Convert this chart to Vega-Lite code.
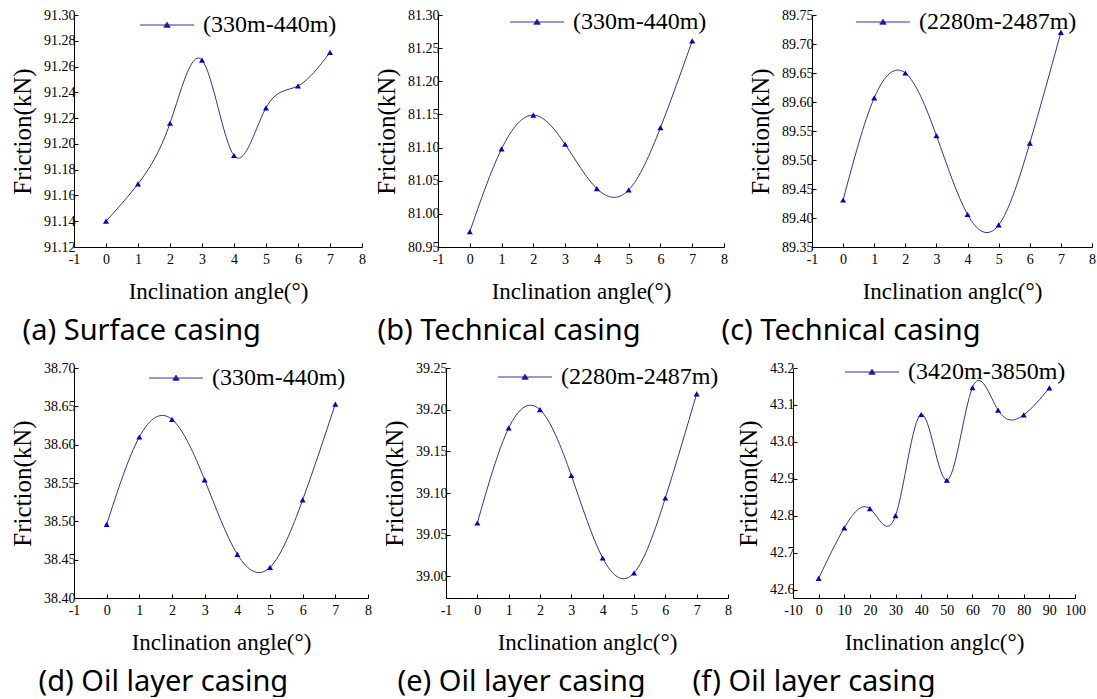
{
  "$schema": "https://vega.github.io/schema/vega-lite/v6.json",
  "background": "white",
  "padding": {"top": 8, "left": 10, "right": 0, "bottom": 0},
  "datasets": {
    "a": [
      {"angle": 0, "friction": 91.140, "series": "(330m-440m)"},
      {"angle": 1, "friction": 91.169, "series": "(330m-440m)"},
      {"angle": 2, "friction": 91.216, "series": "(330m-440m)"},
      {"angle": 3, "friction": 91.265, "series": "(330m-440m)"},
      {"angle": 4, "friction": 91.191, "series": "(330m-440m)"},
      {"angle": 5, "friction": 91.228, "series": "(330m-440m)"},
      {"angle": 6, "friction": 91.245, "series": "(330m-440m)"},
      {"angle": 7, "friction": 91.271, "series": "(330m-440m)"}
    ],
    "b": [
      {"angle": 0, "friction": 80.973, "series": "(330m-440m)"},
      {"angle": 1, "friction": 81.098, "series": "(330m-440m)"},
      {"angle": 2, "friction": 81.149, "series": "(330m-440m)"},
      {"angle": 3, "friction": 81.105, "series": "(330m-440m)"},
      {"angle": 4, "friction": 81.038, "series": "(330m-440m)"},
      {"angle": 5, "friction": 81.036, "series": "(330m-440m)"},
      {"angle": 6, "friction": 81.130, "series": "(330m-440m)"},
      {"angle": 7, "friction": 81.261, "series": "(330m-440m)"}
    ],
    "c": [
      {"angle": 0, "friction": 89.431, "series": "(2280m-2487m)"},
      {"angle": 1, "friction": 89.607, "series": "(2280m-2487m)"},
      {"angle": 2, "friction": 89.650, "series": "(2280m-2487m)"},
      {"angle": 3, "friction": 89.542, "series": "(2280m-2487m)"},
      {"angle": 4, "friction": 89.406, "series": "(2280m-2487m)"},
      {"angle": 5, "friction": 89.388, "series": "(2280m-2487m)"},
      {"angle": 6, "friction": 89.529, "series": "(2280m-2487m)"},
      {"angle": 7, "friction": 89.720, "series": "(2280m-2487m)"}
    ],
    "d": [
      {"angle": 0, "friction": 38.496, "series": "(330m-440m)"},
      {"angle": 1, "friction": 38.610, "series": "(330m-440m)"},
      {"angle": 2, "friction": 38.633, "series": "(330m-440m)"},
      {"angle": 3, "friction": 38.554, "series": "(330m-440m)"},
      {"angle": 4, "friction": 38.457, "series": "(330m-440m)"},
      {"angle": 5, "friction": 38.440, "series": "(330m-440m)"},
      {"angle": 6, "friction": 38.528, "series": "(330m-440m)"},
      {"angle": 7, "friction": 38.653, "series": "(330m-440m)"}
    ],
    "e": [
      {"angle": 0, "friction": 39.064, "series": "(2280m-2487m)"},
      {"angle": 1, "friction": 39.178, "series": "(2280m-2487m)"},
      {"angle": 2, "friction": 39.200, "series": "(2280m-2487m)"},
      {"angle": 3, "friction": 39.121, "series": "(2280m-2487m)"},
      {"angle": 4, "friction": 39.022, "series": "(2280m-2487m)"},
      {"angle": 5, "friction": 39.004, "series": "(2280m-2487m)"},
      {"angle": 6, "friction": 39.094, "series": "(2280m-2487m)"},
      {"angle": 7, "friction": 39.219, "series": "(2280m-2487m)"}
    ],
    "f": [
      {"angle": 0, "friction": 42.630, "series": "(3420m-3850m)"},
      {"angle": 10, "friction": 42.767, "series": "(3420m-3850m)"},
      {"angle": 20, "friction": 42.819, "series": "(3420m-3850m)"},
      {"angle": 30, "friction": 42.800, "series": "(3420m-3850m)"},
      {"angle": 40, "friction": 43.074, "series": "(3420m-3850m)"},
      {"angle": 50, "friction": 42.896, "series": "(3420m-3850m)"},
      {"angle": 60, "friction": 43.147, "series": "(3420m-3850m)"},
      {"angle": 70, "friction": 43.086, "series": "(3420m-3850m)"},
      {"angle": 80, "friction": 43.073, "series": "(3420m-3850m)"},
      {"angle": 90, "friction": 43.146, "series": "(3420m-3850m)"}
    ]
  },
  "config": {
    "view": {"stroke": null},
    "font": "Liberation Serif",
    "axis": {
      "grid": false,
      "domainColor": "black",
      "domainWidth": 1,
      "tickColor": "black",
      "tickWidth": 1,
      "tickSize": -4,
      "labelColor": "black",
      "titleColor": "black",
      "labelFont": "Liberation Serif",
      "titleFont": "Liberation Serif",
      "labelFontSize": 14,
      "labelOverlap": false,
      "labelFlush": false,
      "labelBound": false,
      "titleFontWeight": "normal"
    },
    "axisX": {"titleFontSize": 23, "titlePadding": 14, "labelPadding": 9},
    "axisY": {"titleFontSize": 25, "titlePadding": 8, "labelPadding": 3},
    "legend": {
      "labelFont": "Liberation Serif",
      "labelFontSize": 24,
      "labelColor": "black",
      "symbolType": "M-2.7,0H2.7M0,-0.28L0.32,0.22L-0.32,0.22Z",
      "symbolSize": 400,
      "symbolStrokeWidth": 1,
      "labelOffset": 24,
      "padding": 0,
      "offset": 0
    },
    "title": {
      "font": "Noto Sans",
      "fontSize": 29,
      "fontWeight": "normal",
      "color": "black",
      "orient": "bottom",
      "anchor": "start",
      "frame": "bounds",
      "offset": 14
    }
  },
  "resolve": {"scale": {"color": "independent"}, "legend": {"color": "independent"}},
  "align": "none",
  "spacing": 14,
  "vconcat": [
    {
      "resolve": {"scale": {"color": "independent"}, "legend": {"color": "independent"}},
      "align": "none",
      "spacing": 8,
      "hconcat": [
        {
          "width": 288, "height": 232,
          "data": {"name": "a"},
          "title": {"text": "(a) Surface casing", "dx": 12},
          "encoding": {
            "x": {"field": "angle", "type": "quantitative", "scale": {"domain": [-1, 8], "nice": false}, "axis": {"values": [-1, 0, 1, 2, 3, 4, 5, 6, 7, 8], "labelExpr": "datum.value < 0 ? '-' + (-datum.value) : '' + datum.value", "title": "Inclination angle(°)"}},
            "y": {"field": "friction", "type": "quantitative", "scale": {"domain": [91.12, 91.30], "nice": false, "zero": false}, "axis": {"values": [91.12, 91.14, 91.16, 91.18, 91.20, 91.22, 91.24, 91.26, 91.28, 91.30], "format": ".2f", "title": "Friction(kN)"}}
          },
          "layer": [
            {"mark": {"type": "line", "interpolate": "natural", "strokeWidth": 1},
             "encoding": {"color": {"field": "series", "type": "nominal", "scale": {"range": ["#333399"]},
               "legend": {"orient": "none", "legendX": 81, "legendY": -2, "title": null,
                 "encode": {"symbols": {"update": {"fill": {"value": "#0000cc"}, "stroke": {"value": "#333399"}, "strokeWidth": {"value": 1}, "opacity": {"value": 1}}}}}}}},
            {"mark": {"type": "point", "shape": "triangle-up", "filled": true, "size": 36, "color": "#0000cc", "opacity": 1}}
          ]
        },
        {
          "resolve": {"scale": {"color": "independent"}, "legend": {"color": "independent"}},
          "align": "none",
          "spacing": -7,
          "hconcat": [
            {
              "width": 286, "height": 232,
              "data": {"name": "b"},
              "title": {"text": "(b) Technical casing", "dx": 3},
              "encoding": {
                "x": {"field": "angle", "type": "quantitative", "scale": {"domain": [-1, 8], "nice": false}, "axis": {"values": [-1, 0, 1, 2, 3, 4, 5, 6, 7, 8], "labelExpr": "datum.value < 0 ? '-' + (-datum.value) : '' + datum.value", "title": "Inclination angle(°)"}},
                "y": {"field": "friction", "type": "quantitative", "scale": {"domain": [80.95, 81.30], "nice": false, "zero": false}, "axis": {"values": [80.95, 81.00, 81.05, 81.10, 81.15, 81.20, 81.25, 81.30], "format": ".2f", "title": "Friction(kN)"}}
              },
              "layer": [
                {"mark": {"type": "line", "interpolate": "natural", "strokeWidth": 1},
                 "encoding": {"color": {"field": "series", "type": "nominal", "scale": {"range": ["#333399"]},
                   "legend": {"orient": "none", "legendX": 87, "legendY": -5, "title": null,
                     "encode": {"symbols": {"update": {"fill": {"value": "#0000cc"}, "stroke": {"value": "#333399"}, "strokeWidth": {"value": 1}, "opacity": {"value": 1}}}}}}}},
                {"mark": {"type": "point", "shape": "triangle-up", "filled": true, "size": 36, "color": "#0000cc", "opacity": 1}}
              ]
            },
            {
              "width": 280, "height": 232,
              "data": {"name": "c"},
              "title": {"text": "(c) Technical casing", "dx": -27},
              "encoding": {
                "x": {"field": "angle", "type": "quantitative", "scale": {"domain": [-1, 8], "nice": false}, "axis": {"values": [-1, 0, 1, 2, 3, 4, 5, 6, 7, 8], "labelExpr": "datum.value < 0 ? '-' + (-datum.value) : '' + datum.value", "title": "Inclination anglc(°)"}},
                "y": {"field": "friction", "type": "quantitative", "scale": {"domain": [89.35, 89.75], "nice": false, "zero": false}, "axis": {"values": [89.35, 89.40, 89.45, 89.50, 89.55, 89.60, 89.65, 89.70, 89.75], "format": ".2f", "title": "Friction(kN)"}}
              },
              "layer": [
                {"mark": {"type": "line", "interpolate": "natural", "strokeWidth": 1},
                 "encoding": {"color": {"field": "series", "type": "nominal", "scale": {"range": ["#333399"]},
                   "legend": {"orient": "none", "legendX": 59, "legendY": -5, "title": null,
                     "encode": {"symbols": {"update": {"fill": {"value": "#0000cc"}, "stroke": {"value": "#333399"}, "strokeWidth": {"value": 1}, "opacity": {"value": 1}}}}}}}},
                {"mark": {"type": "point", "shape": "triangle-up", "filled": true, "size": 36, "color": "#0000cc", "opacity": 1}}
              ]
            }
          ]
        }
      ]
    },
    {
      "resolve": {"scale": {"color": "independent"}, "legend": {"color": "independent"}},
      "align": "none",
      "spacing": 10,
      "hconcat": [
        {
          "width": 294, "height": 230,
          "data": {"name": "d"},
          "title": {"text": "(d) Oil layer casing", "dx": 28},
          "encoding": {
            "x": {"field": "angle", "type": "quantitative", "scale": {"domain": [-1, 8], "nice": false}, "axis": {"values": [-1, 0, 1, 2, 3, 4, 5, 6, 7, 8], "labelExpr": "datum.value < 0 ? '-' + (-datum.value) : '' + datum.value", "title": "Inclination angle(°)"}},
            "y": {"field": "friction", "type": "quantitative", "scale": {"domain": [38.40, 38.70], "nice": false, "zero": false}, "axis": {"values": [38.40, 38.45, 38.50, 38.55, 38.60, 38.65, 38.70], "format": ".2f", "title": "Friction(kN)"}}
          },
          "layer": [
            {"mark": {"type": "line", "interpolate": "natural", "strokeWidth": 1},
             "encoding": {"color": {"field": "series", "type": "nominal", "scale": {"range": ["#333399"]},
               "legend": {"orient": "none", "legendX": 90, "legendY": -2, "title": null,
                 "encode": {"symbols": {"update": {"fill": {"value": "#0000cc"}, "stroke": {"value": "#333399"}, "strokeWidth": {"value": 1}, "opacity": {"value": 1}}}}}}}},
            {"mark": {"type": "point", "shape": "triangle-up", "filled": true, "size": 36, "color": "#0000cc", "opacity": 1}}
          ]
        },
        {
          "resolve": {"scale": {"color": "independent"}, "legend": {"color": "independent"}},
          "align": "none",
          "spacing": -40,
          "hconcat": [
            {
              "width": 282, "height": 230,
              "data": {"name": "e"},
              "title": {"text": "(e) Oil layer casing", "dx": 15},
              "encoding": {
                "x": {"field": "angle", "type": "quantitative", "scale": {"domain": [-1, 8], "nice": false}, "axis": {"values": [-1, 0, 1, 2, 3, 4, 5, 6, 7, 8], "labelExpr": "datum.value < 0 ? '-' + (-datum.value) : '' + datum.value", "title": "Inclination anglc(°)"}},
                "y": {"field": "friction", "type": "quantitative", "scale": {"domain": [38.974, 39.25], "nice": false, "zero": false}, "axis": {"values": [39.00, 39.05, 39.10, 39.15, 39.20, 39.25], "format": ".2f", "title": "Friction(kN)"}}
              },
              "layer": [
                {"mark": {"type": "line", "interpolate": "natural", "strokeWidth": 1},
                 "encoding": {"color": {"field": "series", "type": "nominal", "scale": {"range": ["#333399"]},
                   "legend": {"orient": "none", "legendX": 67, "legendY": -3, "title": null,
                     "encode": {"symbols": {"update": {"fill": {"value": "#0000cc"}, "stroke": {"value": "#333399"}, "strokeWidth": {"value": 1}, "opacity": {"value": 1}}}}}}}},
                {"mark": {"type": "point", "shape": "triangle-up", "filled": true, "size": 36, "color": "#0000cc", "opacity": 1}}
              ]
            },
            {
              "width": 282, "height": 230,
              "data": {"name": "f"},
              "title": {"text": "(f) Oil layer casing", "dx": -44},
              "encoding": {
                "x": {"field": "angle", "type": "quantitative", "scale": {"domain": [-10, 100], "nice": false}, "axis": {"values": [-10, 0, 10, 20, 30, 40, 50, 60, 70, 80, 90, 100], "labelExpr": "datum.value < 0 ? '-' + (-datum.value) : '' + datum.value", "title": "Inclination anglc(°)"}},
                "y": {"field": "friction", "type": "quantitative", "scale": {"domain": [42.577, 43.2], "nice": false, "zero": false}, "axis": {"values": [42.6, 42.7, 42.8, 42.9, 43.0, 43.1, 43.2], "format": ".1f", "title": "Friction(kN)"}}
              },
              "layer": [
                {"mark": {"type": "line", "interpolate": "natural", "strokeWidth": 1},
                 "encoding": {"color": {"field": "series", "type": "nominal", "scale": {"range": ["#333399"]},
                   "legend": {"orient": "none", "legendX": 67, "legendY": -8, "title": null,
                     "encode": {"symbols": {"update": {"fill": {"value": "#0000cc"}, "stroke": {"value": "#333399"}, "strokeWidth": {"value": 1}, "opacity": {"value": 1}}}}}}}},
                {"mark": {"type": "point", "shape": "triangle-up", "filled": true, "size": 36, "color": "#0000cc", "opacity": 1}}
              ]
            }
          ]
        }
      ]
    }
  ]
}
